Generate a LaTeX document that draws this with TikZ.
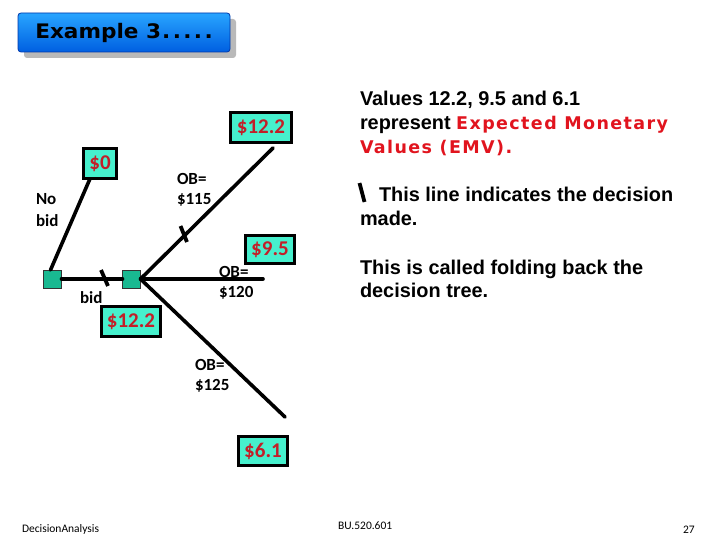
\documentclass[tikz,border=0pt]{standalone}
\usepackage{fontspec}
\setmainfont{Carlito}
\newfontfamily\arialfont{Liberation Sans}
\newfontfamily\verdfont{DejaVu Sans}
\newfontfamily\verdspfont{DejaVu Sans}[LetterSpace=8]
\definecolor{boxfill}{RGB}{70,240,205}
\definecolor{sqfill}{RGB}{25,185,145}
\definecolor{valred}{RGB}{195,30,40}
\definecolor{emvred}{RGB}{225,20,30}
\definecolor{titletop}{RGB}{40,165,255}
\definecolor{titlemid}{RGB}{0,150,255}
\definecolor{titlebot}{RGB}{0,95,225}
\definecolor{titleedge}{RGB}{0,55,170}
\begin{document}
\begin{tikzpicture}[x=1pt,y=-1pt,
  every node/.style={inner sep=0pt, outer sep=0pt},
  lbl/.style={font=\fontsize{17}{20}\selectfont\bfseries, anchor=base west},
  valbox/.style={draw=black, line width=2.6pt, fill=boxfill, text=valred,
    font=\fontsize{21}{23}\selectfont\bfseries},
  sq/.style={draw=black!80, line width=0.6pt, fill=sqfill, minimum size=18pt},
  branch/.style={line width=3.6pt, line cap=round},
  tickmark/.style={line width=3.8pt},
  body/.style={font=\arialfont\fontsize{19.9}{24}\selectfont\bfseries, anchor=base west},
  foot/.style={font=\fontsize{11.5}{13}\selectfont, anchor=base west}]
\useasboundingbox (0,0) rectangle (720,540);
% title
\fill[gray!55, rounded corners=3pt] (24,19) rectangle (236,58);
\shade[top color=titletop, middle color=titlemid, bottom color=titlebot, rounded corners=3pt]
  (18,13) rectangle (230,52);
\draw[titleedge, line width=0.8pt, rounded corners=3pt] (18,13) rectangle (230,52);
\node[font=\verdfont\fontsize{20}{22}\selectfont\bfseries] (title) at (124,32.5)
  {\scalebox{1.08}[1]{Example 3\hspace{1pt}.\hspace{2.2pt}.\hspace{2.2pt}.\hspace{2.2pt}.\hspace{2.2pt}.}};
% decision nodes
\node[sq] (n1) at (52.5,279) {};
\node[sq] (n2) at (131.5,279) {};
% value boxes
\node[valbox, minimum width=33.4pt, minimum height=30.4pt] (v0) at (100,163.5) {\$0};
\node[valbox, minimum width=61.4pt, minimum height=30.4pt] (vA) at (261,127.5) {\$12.2};
\node[valbox, minimum width=49.4pt, minimum height=28.4pt] (v95) at (270,249.5) {\$9.5};
\node[valbox, minimum width=59.4pt, minimum height=30.4pt] (vB) at (131,321.5) {\$12.2};
\node[valbox, minimum width=49.4pt, minimum height=29.4pt] (v61) at (263,451) {\$6.1};
% free ends of branches
\coordinate (e1) at (273,148);
\coordinate (e2) at (263,279);
\coordinate (e3) at (285,417);
% branches
\draw[branch] ([xshift=-2pt]n1.north) -- ([xshift=-10pt]v0.south);
\draw[branch] (n1.east) -- (n2.west);
\draw[branch] (n2.east) -- (e1);
\draw[branch] (n2.east) -- (e2);
\draw[branch] (n2.east) -- (e3);
% decision ticks
\draw[tickmark] (101,270) -- (108,286);
\draw[tickmark] (180.5,226) -- (187,242);
% branch labels
\node[lbl] (nob1) at (36,205) {No};
\node[lbl] (nob2) at (36,226) {bid};
\node[lbl] (bidl) at (80,303) {bid};
\node[lbl] (ob1a) at (177,185) {OB=};
\node[lbl] (ob1b) at (177,205) {\$115};
\node[lbl] (ob2a) at (219,277) {OB=};
\node[lbl] (ob2b) at (219,297) {\$120};
\node[lbl] (ob3a) at (195,370) {OB=};
\node[lbl] (ob3b) at (195,390) {\$125};
% explanation text
\node[body] (t1) at (360,105.5) {Values 12.2, 9.5 and 6.1};
\node[body] (t2) at (360,130) {represent \textcolor{emvred}{\verdspfont\fontsize{17.5}{20}\selectfont\bfseries Expected Monetary}};
\node[body] (t3) at (360,153.5) {\textcolor{emvred}{\verdspfont\fontsize{17.5}{20}\selectfont\bfseries Values (EMV).}};
\draw[tickmark] (359.5,183) -- (364.5,202);
\node[body] (t4) at (379,201.5) {This line indicates the decision};
\node[body] (t5) at (360,225.5) {made.};
\node[body] (t6) at (360,274) {This is called folding back the};
\node[body] (t7) at (360,297) {decision tree.};
% footer
\node[foot] (f1) at (22,532) {DecisionAnalysis};
\node[foot] (f2) at (338,529) {BU.520.601};
\node[foot] (f3) at (683,533) {27};
\end{tikzpicture}
\end{document}
